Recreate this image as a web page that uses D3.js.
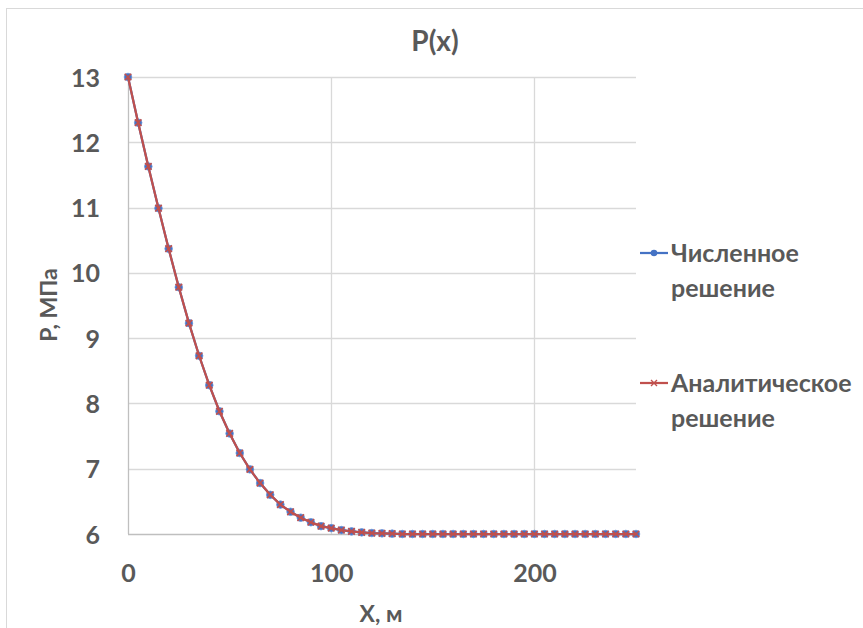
<!DOCTYPE html>
<html>
<head>
<meta charset="utf-8">
<script src="https://cdn.jsdelivr.net/npm/d3@7"></script>
<style>
  html, body { margin: 0; padding: 0; background: #fff; }
  svg text { font-family: Lato, "Open Sans", sans-serif; font-weight: bold; fill: #595959; }
</style>
</head>
<body>
<svg id="chart"></svg>
<script>
// Chart data
const xValues = [0, 5, 10, 15, 20, 25, 30, 35, 40, 45, 50, 55, 60, 65, 70, 75, 80, 85, 90, 95,
                 100, 105, 110, 115, 120, 125, 130, 135, 140, 145, 150, 155, 160, 165, 170, 175,
                 180, 185, 190, 195, 200, 205, 210, 215, 220, 225, 230, 235, 240, 245, 250];
const numericP = [13, 12.30, 11.63, 10.99, 10.37, 9.78, 9.23, 8.73, 8.28, 7.88, 7.54, 7.24, 6.99,
                  6.78, 6.60, 6.45, 6.34, 6.25, 6.18, 6.12, 6.09, 6.06, 6.04, 6.025, 6.015, 6.01,
                  6.005, 6, 6, 6, 6, 6, 6, 6, 6, 6, 6, 6, 6, 6, 6, 6, 6, 6, 6, 6, 6, 6, 6, 6, 6];
const analyticP = [13, 12.30, 11.63, 10.99, 10.37, 9.78, 9.23, 8.73, 8.28, 7.88, 7.54, 7.24, 6.99,
                   6.78, 6.60, 6.45, 6.34, 6.25, 6.18, 6.12, 6.09, 6.06, 6.04, 6.025, 6.015, 6.01,
                   6.005, 6, 6, 6, 6, 6, 6, 6, 6, 6, 6, 6, 6, 6, 6, 6, 6, 6, 6, 6, 6, 6, 6, 6, 6];
const yTicks = [6, 7, 8, 9, 10, 11, 12, 13];
const xTicks = [0, 100, 200];
const seriesNames = [["Численное", "решение"], ["Аналитическое", "решение"]];

const width = 863, height = 628;
const blue = '#4472C4', red = '#C0504D';

const svg = d3.select('#chart')
    .attr('width', width)
    .attr('height', height);

// outer chart frame (cropped on right and bottom)
svg.append('rect')
    .attr('x', 6.5).attr('y', 8.5)
    .attr('width', width + 20).attr('height', height + 20)
    .attr('fill', 'none')
    .attr('stroke', '#d9d9d9');

const x = d3.scaleLinear().domain([0, 250]).range([128, 636]);
const y = d3.scaleLinear().domain([6, 13]).range([534, 77]);

// horizontal gridlines
svg.append('g')
    .selectAll('line')
    .data(yTicks.slice(1))
    .enter()
    .append('line')
    .attr('x1', x(0)).attr('x2', x(250))
    .attr('y1', d => Math.round(y(d)) + 0.5)
    .attr('y2', d => Math.round(y(d)) + 0.5)
    .attr('stroke', '#d9d9d9')
    .attr('stroke-width', 1.3);

// vertical gridlines
svg.append('g')
    .selectAll('line')
    .data(xTicks.slice(1))
    .enter()
    .append('line')
    .attr('x1', d => Math.round(x(d)) + 0.5)
    .attr('x2', d => Math.round(x(d)) + 0.5)
    .attr('y1', y(13)).attr('y2', y(6))
    .attr('stroke', '#d9d9d9')
    .attr('stroke-width', 1.3);

// axis lines
svg.append('line')
    .attr('x1', x(0)).attr('x2', x(250))
    .attr('y1', y(6) + 0.5).attr('y2', y(6) + 0.5)
    .attr('stroke', '#bfbfbf').attr('stroke-width', 1.3);
svg.append('line')
    .attr('x1', x(0) + 0.5).attr('x2', x(0) + 0.5)
    .attr('y1', y(13)).attr('y2', y(6))
    .attr('stroke', '#bfbfbf').attr('stroke-width', 1.3);

// tick labels
const yAxis = d3.axisLeft(y).tickValues(yTicks).tickFormat(d3.format('d')).tickSize(0).tickPadding(28);
const gy = svg.append('g').attr('transform', `translate(${x(0)},0)`).call(yAxis);
gy.select('.domain').remove();
gy.selectAll('text')
    .attr('font-family', null)
    .style('font-size', '25px')
    .attr('dy', '0.36em');

const xAxis = d3.axisBottom(x).tickValues(xTicks).tickFormat(d3.format('d')).tickSize(0).tickPadding(0);
const gx = svg.append('g').attr('transform', `translate(0,${y(6)})`).call(xAxis);
gx.select('.domain').remove();
gx.selectAll('text')
    .attr('font-family', null)
    .style('font-size', '25px')
    .attr('y', 48)
    .attr('dy', null);

// titles
svg.append('text')
    .attr('x', 435).attr('y', 51)
    .attr('text-anchor', 'middle')
    .style('font-size', '28px')
    .text('P(x)');

svg.append('text')
    .attr('transform', 'translate(57,305) rotate(-90)')
    .attr('text-anchor', 'middle')
    .style('font-size', '23px')
    .text('P, МПа');

svg.append('text')
    .attr('x', 381).attr('y', 622)
    .attr('text-anchor', 'middle')
    .style('font-size', '23px')
    .text('X, м');

// series
const numData = xValues.map((d, i) => [d, numericP[i]]);
const anaData = xValues.map((d, i) => [d, analyticP[i]]);
const line = d3.line().x(d => x(d[0])).y(d => y(d[1]));

svg.append('path')
    .datum(numData)
    .attr('d', line)
    .attr('fill', 'none')
    .attr('stroke', blue)
    .attr('stroke-width', 2.25);

svg.append('g')
    .selectAll('circle')
    .data(numData)
    .enter()
    .append('circle')
    .attr('cx', d => x(d[0]))
    .attr('cy', d => y(d[1]))
    .attr('r', 3.8)
    .attr('fill', blue)
    .attr('stroke', '#6f93d6')
    .attr('stroke-width', 0.8);

svg.append('path')
    .datum(anaData)
    .attr('d', line)
    .attr('fill', 'none')
    .attr('stroke', red)
    .attr('stroke-width', 2.25);

const cross = 3.3;
svg.append('g')
    .selectAll('path')
    .data(anaData)
    .enter()
    .append('path')
    .attr('d', d => {
        const cx = x(d[0]), cy = y(d[1]);
        return `M${cx - cross},${cy - cross}L${cx + cross},${cy + cross}M${cx - cross},${cy + cross}L${cx + cross},${cy - cross}`;
    })
    .attr('stroke', red)
    .attr('stroke-width', 1.6)
    .attr('fill', 'none');

// legend
const legendRows = [
    { color: blue, marker: 'circle', y: 253, lines: seriesNames[0], textY: 262 },
    { color: red, marker: 'cross', y: 383, lines: seriesNames[1], textY: 392 }
];

legendRows.forEach(row => {
    const g = svg.append('g');
    g.append('line')
        .attr('x1', 640).attr('x2', 668)
        .attr('y1', row.y).attr('y2', row.y)
        .attr('stroke', row.color)
        .attr('stroke-width', 2.25);
    if (row.marker === 'circle') {
        g.append('circle')
            .attr('cx', 654).attr('cy', row.y)
            .attr('r', 3.3)
            .attr('fill', row.color);
    } else {
        const c = 3;
        g.append('path')
            .attr('d', `M${654 - c},${row.y - c}L${654 + c},${row.y + c}M${654 - c},${row.y + c}L${654 + c},${row.y - c}`)
            .attr('stroke', row.color)
            .attr('stroke-width', 1.4);
    }
    const t = g.append('text')
        .attr('x', 671).attr('y', row.textY)
        .style('font-size', '25px');
    row.lines.forEach((s, i) => {
        t.append('tspan')
            .attr('x', 671)
            .attr('dy', i === 0 ? 0 : 35)
            .text(s);
    });
});
</script>
</body>
</html>
